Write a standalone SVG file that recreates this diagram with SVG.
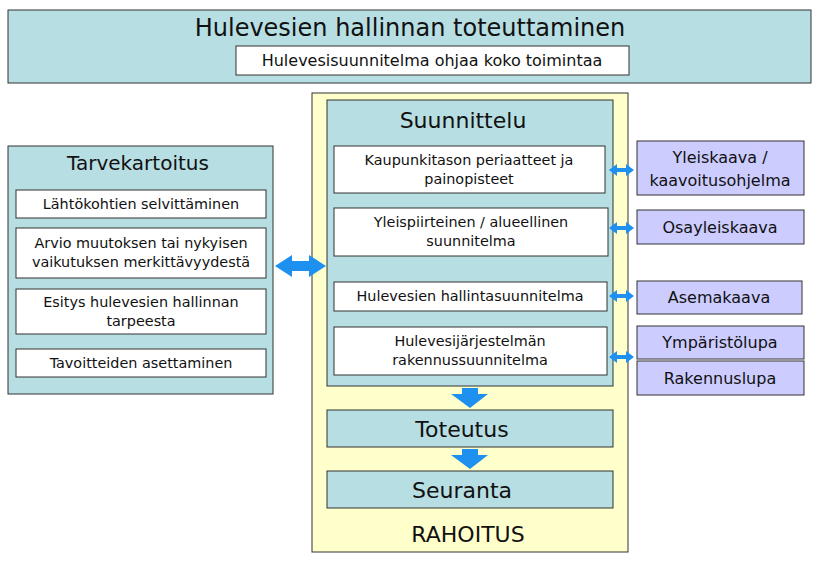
<svg xmlns="http://www.w3.org/2000/svg" width="821" height="565" viewBox="0 0 821 565">
<style>
text{font-family:"DejaVu Sans",Verdana,sans-serif;text-anchor:middle;fill:#111}
.t{fill:#b7dee3;stroke:#333;stroke-width:1}
.w{fill:#fff;stroke:#333;stroke-width:1}
.p{fill:#ccccff;stroke:#333;stroke-width:1}
.y{fill:#ffffcc;stroke:#333;stroke-width:1}
.a{fill:#1e90f0}
.s{font-size:14.4px}
.m{font-size:16px}
</style>
<rect width="821" height="565" fill="#fff"/>
<g id="top"><rect class="t" x="8" y="10" width="803" height="73"/>
<text x="410" y="36" font-size="24">Hulevesien hallinnan toteuttaminen</text>
<rect class="w" x="236" y="46" width="393" height="29"/>
<text x="432" y="66" class="m">Hulevesisuunnitelma ohjaa koko toimintaa</text></g>
<g id="rahoitus"><rect class="y" x="312" y="93" width="316" height="459"/>
<text x="468" y="542" font-size="22">RAHOITUS</text></g>
<g id="suunnittelu"><rect class="t" x="327" y="100" width="286" height="286"/>
<text x="463" y="128" font-size="22">Suunnittelu</text>
<rect class="w" x="334" y="146" width="271" height="47"/>
<text x="469" y="165" class="s">Kaupunkitason periaatteet ja</text>
<text x="469" y="184" class="s">painopisteet</text>
<rect class="w" x="334" y="208" width="274" height="48"/>
<text x="471" y="227" class="s">Yleispiirteinen / alueellinen</text>
<text x="471" y="246" class="s">suunnitelma</text>
<rect class="w" x="334" y="282" width="273" height="29"/>
<text x="470" y="301" class="s">Hulevesien hallintasuunnitelma</text>
<rect class="w" x="334" y="327" width="273" height="48"/>
<text x="470" y="346" class="s">Hulevesijärjestelmän</text>
<text x="470" y="365" class="s">rakennussuunnitelma</text></g>
<g id="toteutus"><rect class="t" x="327" y="410" width="286" height="37"/>
<text x="462" y="437" font-size="22">Toteutus</text></g>
<g id="seuranta"><rect class="t" x="327" y="471" width="286" height="37"/>
<text x="462" y="498" font-size="22">Seuranta</text></g>
<g id="tarvekartoitus"><rect class="t" x="8" y="146" width="265" height="248"/>
<text x="138" y="170" font-size="20">Tarvekartoitus</text>
<rect class="w" x="16" y="190" width="250" height="28"/>
<text x="141" y="209" class="s">Lähtökohtien selvittäminen</text>
<rect class="w" x="16" y="228" width="250" height="50"/>
<text x="141" y="248" class="s">Arvio muutoksen tai nykyisen</text>
<text x="141" y="267" class="s">vaikutuksen merkittävyydestä</text>
<rect class="w" x="16" y="289" width="250" height="45"/>
<text x="141" y="307" class="s">Esitys hulevesien hallinnan</text>
<text x="141" y="326" class="s">tarpeesta</text>
<rect class="w" x="16" y="349" width="250" height="28"/>
<text x="141" y="368" class="s">Tavoitteiden asettaminen</text></g>
<g id="yleiskaava"><rect class="p" x="637" y="141" width="167" height="54"/>
<text x="720" y="163" class="m">Yleiskaava /</text><text x="720" y="186" class="m">kaavoitusohjelma</text></g>
<g id="osayleiskaava"><rect class="p" x="637" y="210" width="167" height="34"/>
<text x="720" y="233" class="m">Osayleiskaava</text></g>
<g id="asemakaava"><rect class="p" x="637" y="281" width="165" height="33"/>
<text x="719" y="303" class="m">Asemakaava</text></g>
<g id="ymparistolupa"><rect class="p" x="637" y="326" width="167" height="33"/>
<text x="720" y="348" class="m">Ympäristölupa</text></g>
<g id="rakennuslupa"><rect class="p" x="637" y="361" width="167" height="34"/>
<text x="720" y="384" class="m">Rakennuslupa</text></g>
<g id="connectors">
<polygon class="a" points="275,266 292,255 292,261 309,261 309,255 326,266 309,277 309,271 292,271 292,277"/>
<polygon class="a" points="609,170 617,164 617,168 626,168 626,164 634,170 626,176 626,172 617,172 617,176"/>
<polygon class="a" points="609,228 617,222 617,226 626,226 626,222 634,228 626,234 626,230 617,230 617,234"/>
<polygon class="a" points="609,296 617,290 617,294 626,294 626,290 634,296 626,302 626,298 617,298 617,302"/>
<polygon class="a" points="609,357 617,351 617,355 626,355 626,351 634,357 626,363 626,359 617,359 617,363"/>
<polygon class="a" points="462,388 478,388 478,394 488,394 470,408 451,394 462,394"/>
<polygon class="a" points="462,449 478,449 478,455 488,455 470,469 451,455 462,455"/>
</g>
</svg>
